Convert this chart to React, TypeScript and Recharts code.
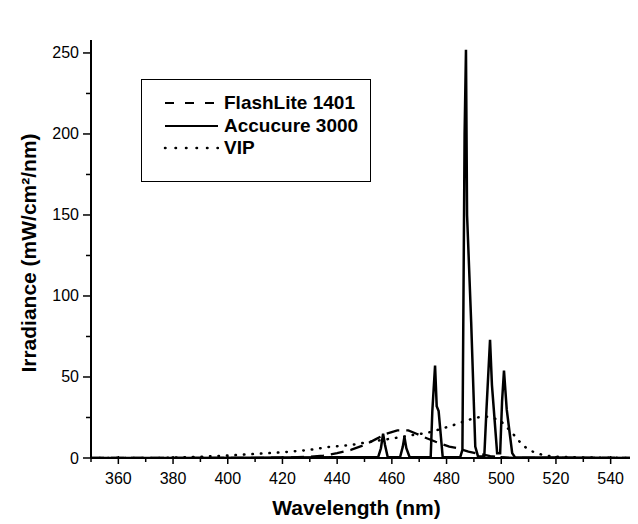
import React from 'react';
import { LineChart, Line, XAxis, YAxis, Legend } from 'recharts';

// Wavelength (nm) and irradiance (mW/cm²/nm)
const flashNm = [350, 400, 420, 430, 435, 440, 445, 450, 454, 458, 462, 466, 469, 473, 476, 481, 484, 488, 492, 496, 500, 505, 550];
const flashIrr = [0, 0, 0.2, 0.8, 1.5, 3, 5, 8, 11.5, 15, 17, 17, 15, 12, 10, 7, 6, 4, 2.5, 1.2, 0.5, 0, 0];

const accuNm = [350, 380, 420, 440, 455, 456, 456.8, 457.5, 458.5, 463, 464, 464.6, 465.3, 466.5, 474.2, 474.8, 475.8, 476.4, 477.1, 478.6, 485, 485.8, 486.6, 487.1, 487.5, 489, 490.5, 491.5, 493.8, 494.6, 495.9, 496.6, 498.5, 499.6, 500.3, 501, 502, 504, 505, 550];
const accuIrr = [0, 0, 0.3, 0.5, 0.5, 6, 15, 8, 0.5, 0.5, 7, 13, 6, 0.5, 0.5, 29, 57, 32, 29, 0.5, 0.5, 5, 200, 252, 150, 84, 7, 1, 1, 30, 73, 45, 3, 3, 35, 54, 30, 3, 0.5, 0];

const vipNm = [350, 375, 380, 390, 400, 410, 420, 430, 437, 445, 452, 460, 467, 473, 478, 482, 487, 491, 495, 499.5, 504, 508, 512, 516, 520, 530, 540, 550];
const vipIrr = [0, 0, 0.3, 0.8, 1.5, 2.5, 3.5, 5, 6.8, 8, 10, 12, 14, 15.5, 18, 20, 23, 25, 25.5, 23.4, 15.5, 7.5, 3.5, 1.5, 0.8, 0.3, 0.1, 0];

const xTicks = [350, 360, 370, 380, 390, 400, 410, 420, 430, 440, 450, 460, 470, 480, 490, 500, 510, 520, 530, 540, 550];
const yTicks = [0, 25, 50, 75, 100, 125, 150, 175, 200, 225, 250];

const seriesNames = ['FlashLite 1401', 'Accucure 3000', 'VIP'];

const toPoints = (xs: number[], ys: number[]) => xs.map((x, i) => ({ nm: x, irr: ys[i] }));
const flashData = toPoints(flashNm, flashIrr);
const accuData = toPoints(accuNm, accuIrr);
const vipData = toPoints(vipNm, vipIrr);

const FONT = '"Liberation Sans", Arial, sans-serif';

const XTick = (props: any) => {
  const { x, y, payload } = props;
  const major = payload.value % 20 === 0;
  return (
    <g>
      <line x1={x} x2={x} y1={y - (major ? 2 : 0)} y2={y + (major ? 6 : 4)} stroke="#000" strokeWidth={1.5} />
      {major && payload.value !== 350 && payload.value !== 550 ? (
        <text x={x} y={y + 20} textAnchor="middle" dominantBaseline="central" fontFamily={FONT} fontSize={16} fill="#000">
          {payload.value}
        </text>
      ) : null}
    </g>
  );
};

const YTick = (props: any) => {
  const { x, y, payload } = props;
  const major = payload.value % 50 === 0;
  return (
    <g>
      <line x1={x - (major ? 8 : 5)} x2={x} y1={y} y2={y} stroke="#000" strokeWidth={1.5} />
      {major ? (
        <text x={x - 12} y={y} textAnchor="end" dominantBaseline="central" fontFamily={FONT} fontSize={16} fill="#000">
          {payload.value}
        </text>
      ) : null}
    </g>
  );
};

const YTitle = (props: any) => {
  const vb = props.viewBox || { x: 0, y: 32, width: 83, height: 418 };
  const cx = 20;
  const cy = vb.y + vb.height / 2 + 4;
  return (
    <text x={cx} y={cy} transform={`rotate(-90, ${cx}, ${cy})`} textAnchor="middle" dominantBaseline="central" fontFamily={FONT} fontWeight="bold" fontSize={21} fill="#000">
      Irradiance (mW/cm²/nm)
    </text>
  );
};

const XTitle = (props: any) => {
  const vb = props.viewBox || { x: 83, y: 450, width: 547, height: 66 };
  const cx = vb.x + vb.width / 2 - 8;
  const cy = vb.y + 49;
  return (
    <text x={cx} y={cy} textAnchor="middle" dominantBaseline="central" fontFamily={FONT} fontWeight="bold" fontSize={21} fill="#000">
      Wavelength (nm)
    </text>
  );
};

const legendStyles = [
  { dash: '9 11', cap: 'butt' as const, w: 2.2 },
  { dash: undefined, cap: 'butt' as const, w: 2.2 },
  { dash: '0.5 10', cap: 'round' as const, w: 2.5 },
];

const LegendBox = () => (
  <div style={{ width: 230, height: 103, border: '1.5px solid #000', boxSizing: 'border-box', background: '#fff', position: 'relative' }}>
    {seriesNames.map((name, i) => (
      <div key={name} style={{ position: 'absolute', left: 21, top: 12 + i * 22.5, height: 22, display: 'flex', alignItems: 'center' }}>
        <svg width={56} height={22}>
          <line x1={2} x2={55} y1={11} y2={11} stroke="#000" strokeWidth={legendStyles[i].w} strokeDasharray={legendStyles[i].dash} strokeLinecap={legendStyles[i].cap} />
        </svg>
        <span style={{ marginLeft: 5, fontFamily: FONT, fontWeight: 'bold', fontSize: 19, color: '#000', whiteSpace: 'nowrap' }}>{name}</span>
      </div>
    ))}
  </div>
);

export default function App() {
  return (
    <div style={{ width: 630, height: 516, background: '#fff' }}>
      <LineChart width={630} height={516} margin={{ top: 32, right: 0, bottom: 0, left: 0 }}>
        <XAxis
          dataKey="nm"
          type="number"
          domain={[350, 550]}
          ticks={xTicks}
          interval={0}
          height={66}
          tickSize={0}
          tickMargin={0}
          tickLine={false}
          axisLine={{ stroke: '#000', strokeWidth: 2 }}
          tick={<XTick />}
          label={<XTitle />}
          allowDataOverflow
        />
        <YAxis
          type="number"
          domain={[0, 258]}
          ticks={yTicks}
          interval={0}
          width={83}
          tickSize={0}
          tickMargin={0}
          tickLine={false}
          axisLine={{ stroke: '#000', strokeWidth: 2 }}
          tick={<YTick />}
          label={<YTitle />}
          allowDataOverflow
        />
        <Legend
          layout="horizontal"
          verticalAlign="middle"
          align="center"
          wrapperStyle={{ position: 'absolute', left: 133, top: 71, width: 230, height: 103 }}
          content={() => <LegendBox />}
        />
        <Line data={vipData} dataKey="irr" name={seriesNames[2]} type="linear" stroke="#000" strokeWidth={2.5} strokeDasharray="0.5 8" strokeLinecap="round" dot={false} isAnimationActive={false} />
        <Line data={flashData} dataKey="irr" name={seriesNames[0]} type="linear" stroke="#000" strokeWidth={2.3} strokeDasharray="13 7" dot={false} isAnimationActive={false} />
        <Line data={accuData} dataKey="irr" name={seriesNames[1]} type="linear" stroke="#000" strokeWidth={2.5} dot={false} isAnimationActive={false} />
      </LineChart>
    </div>
  );
}
